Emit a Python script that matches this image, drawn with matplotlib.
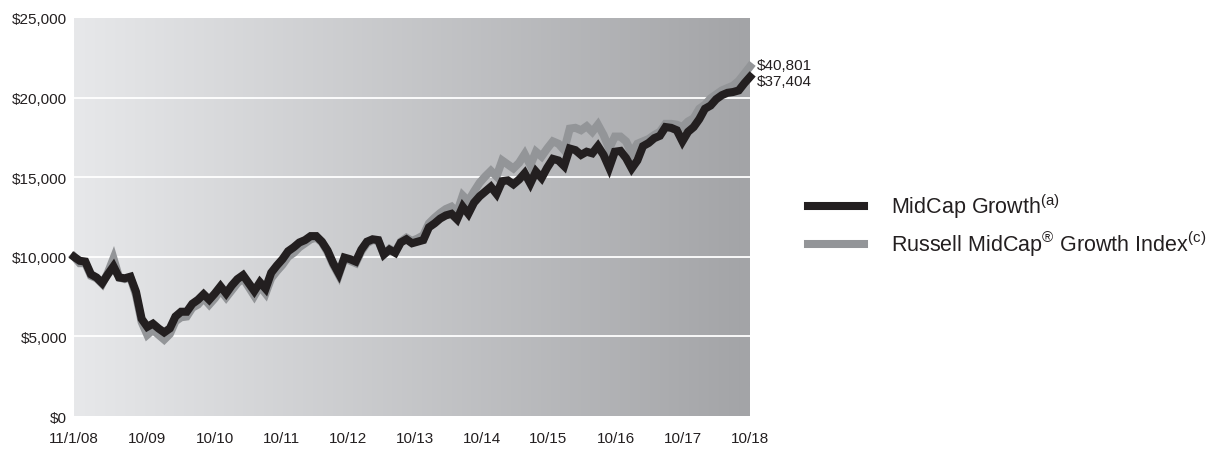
import matplotlib
matplotlib.use("Agg")
import matplotlib.pyplot as plt
from matplotlib.colors import LinearSegmentedColormap
import numpy as np

plt.rcParams["font.family"] = ["Liberation Sans", "DejaVu Sans"]

# monthly values, 11/1/08 .. 10/31/18 (hypothetical $10,000 investment)
midcap_growth = [
    10000, 9750, 9700, 8900, 8700, 8350, 8900, 9400, 8700, 8650,
    8750, 7800, 6100, 5600, 5800, 5500, 5250, 5500, 6250, 6550,
    6550, 7050, 7300, 7650, 7300, 7700, 8150, 7700, 8200, 8600,
    8850, 8350, 7850, 8400, 8000, 9000, 9450, 9850, 10350, 10600,
    10900, 11050, 11300, 11300, 10950, 10400, 9600, 8950, 9950, 9850,
    9700, 10450, 10950, 11100, 11050, 10150, 10450, 10250, 10900, 11100,
    10850, 10950, 11050, 11850, 12100, 12400, 12600, 12700, 12350, 13150,
    12700, 13400, 13800, 14100, 14400, 13950, 14750, 14800, 14550, 14850,
    15250, 14600, 15350, 14950, 15600, 16150, 16050, 15700, 16800, 16700,
    16400, 16600, 16500, 16950, 16400, 15600, 16600, 16650, 16200, 15550,
    16050, 16950, 17150, 17450, 17600, 18150, 18100, 17950, 17250, 17850,
    18150, 18650, 19300, 19500, 19900, 20150, 20300, 20350, 20450, 20900,
    21300,
]
russell_midcap_growth = [
    10000, 9600, 9600, 8800, 8650, 8300, 9000, 9900, 8700, 8600,
    8700, 7600, 5900, 5100, 5400, 5100, 4800, 5150, 5950, 6200,
    6250, 6800, 7000, 7400, 7000, 7400, 7900, 7450, 7900, 8350,
    8650, 8100, 7550, 8150, 7700, 8650, 9100, 9500, 10000, 10250,
    10600, 10850, 11100, 11200, 10900, 10300, 9500, 8850, 9900, 9750,
    9600, 10350, 10850, 11050, 11000, 10150, 10500, 10300, 10950, 11200,
    11000, 11150, 11350, 12100, 12450, 12750, 13000, 13150, 12800, 13850,
    13500, 14100, 14650, 15050, 15400, 15050, 16050, 15800, 15550, 15900,
    16450, 15750, 16600, 16300, 16800, 17250, 17100, 16700, 18050, 18100,
    17950, 18200, 17850, 18300, 17650, 16800, 17550, 17550, 17250, 16500,
    17100, 17250, 17400, 17650, 17850, 18350, 18350, 18300, 18150, 18500,
    18700, 19300, 19550, 19950, 20200, 20450, 20600, 20750, 21050, 21500,
    21950,
]
end_labels = ["$40,801", "$37,404"]
x_labels = ["11/1/08", "10/09", "10/10", "10/11", "10/12", "10/13",
            "10/14", "10/15", "10/16", "10/17", "10/18"]
y_ticks = [0, 5000, 10000, 15000, 20000, 25000]
series_names = ["MidCap Growth$^{\\mathregular{(a)}}$",
                "Russell MidCap$^{\\mathregular{®}}$ Growth Index$^{\\mathregular{(c)}}$"]

x_tick_pos = [0, 13, 25, 36.8, 48.7, 60.5, 72.4, 84.2, 96.2, 108.1, 120]
months = np.arange(len(midcap_growth))

fig = plt.figure(figsize=(12.06, 4.52), dpi=100)
ax = fig.add_axes([0.0614, 0.0774, 0.5605, 0.8806])

# gradient background
cmap = LinearSegmentedColormap.from_list("bg", ["#e7e8ea", "#a3a4a7"])
ax.imshow(np.linspace(0, 1, 256).reshape(1, -1), extent=[0, 120, 0, 25000],
          aspect="auto", cmap=cmap, zorder=0)
for y in y_ticks[1:-1]:
    ax.axhline(y, color="white", lw=1.3, zorder=1)

l_idx, = ax.plot(months, russell_midcap_growth, color="#939598", lw=5.8,
                 solid_joinstyle="miter", zorder=2, clip_on=False)
l_fund, = ax.plot(months, midcap_growth, color="#231f20", lw=5.8,
                  solid_joinstyle="miter", zorder=3, clip_on=False)

ax.set_xlim(0, 120)
ax.set_ylim(0, 25000)
ax.set_yticks(y_ticks)
ax.set_yticklabels([f"${v:,.0f}" for v in y_ticks])
ax.set_xticks(x_tick_pos)
ax.set_xticklabels(x_labels)
ax.tick_params(length=0, labelsize=11, colors="#231f20")
ax.tick_params(axis="y", pad=5)
ax.tick_params(axis="x", pad=11)
for s in ax.spines.values():
    s.set_visible(False)

ax.annotate(end_labels[0], xy=(months[-1], russell_midcap_growth[-1]),
            xytext=(5, 1), textcoords="offset points", va="center",
            fontsize=11, color="#231f20", annotation_clip=False)
ax.annotate(end_labels[1], xy=(months[-1], midcap_growth[-1]),
            xytext=(5, -3), textcoords="offset points", va="center",
            fontsize=11, color="#231f20", annotation_clip=False)

fig.legend([l_fund, l_idx], series_names, loc="center left",
           bbox_to_anchor=(0.654, 0.5), frameon=False, fontsize=15.5,
           handlelength=2.6, handletextpad=1.25, labelspacing=0.42,
           labelcolor="#231f20")

fig.savefig("out.png", dpi=100)
